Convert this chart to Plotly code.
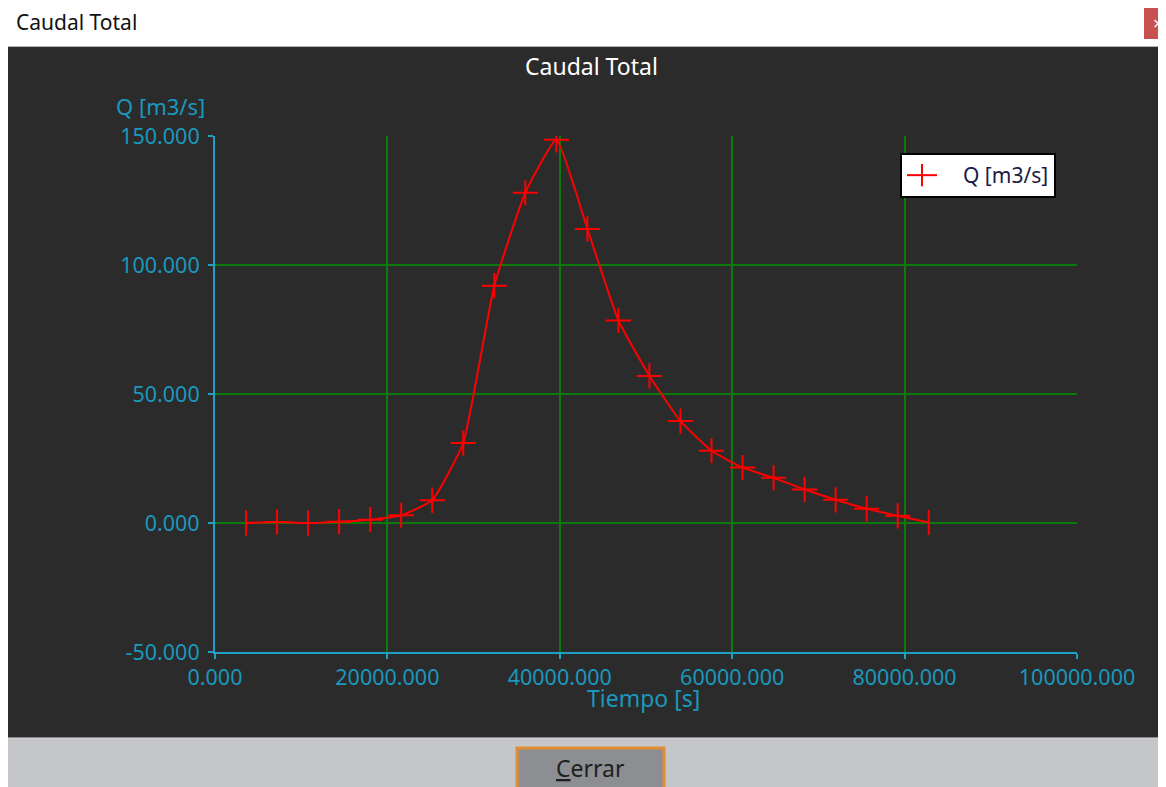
import plotly.graph_objects as go

# data (time in s, flow in m3/s)
tiempo = [3600, 7200, 10800, 14400, 18000, 21600, 25200, 28800, 32400, 36000,
          39600, 43200, 46800, 50400, 54000, 57600, 61200, 64800, 68400, 72000,
          75600, 79200, 82800]
caudal = [0.0, 0.4, 0.0, 0.5, 1.3, 3.0, 8.8, 31.0, 92.0, 128.0,
          148.5, 114.0, 78.5, 57.0, 39.5, 28.0, 21.5, 17.5, 13.0, 9.0,
          5.5, 2.8, 0.2]
y_ticks = [-50, 0, 50, 100, 150]
x_ticks = [0, 20000, 40000, 60000, 80000, 100000]

# the page body has an 8px margin, so the figure is drawn 8px smaller
OFF = 8
W, H = 1166, 787          # browser window
L, R, T, B = 215, 1077, 136, 652  # plot area in window pixels


def px(x):
    return (x - L) / (R - L)


def py(y):
    return (B - y) / (B - T)


FONT = "Noto Sans"
CYAN = "#1d9fc6"
CYAN_TXT = "#1a98bd"
GREEN = "#0b7a0b"
NUM = 21.5
TXT = 23

symbols = ["cross-thin"] * len(tiempo)
for i in (0, 2, len(tiempo) - 1):
    symbols[i] = "line-ns"

fig = go.Figure()
fig.add_trace(go.Scatter(
    x=tiempo, y=caudal, name="\u2003Q [m3/s]", mode="lines+markers",
    line=dict(color="#ff0000", width=2, shape="spline", smoothing=0.4),
    marker=dict(symbol=symbols, size=18, color="#ff0000",
                line=dict(color="#ff0000", width=2)),
))

shapes = [
    # dark chart panel
    dict(type="rect", xref="paper", yref="paper", x0=px(0), x1=px(W + 5),
         y0=py(738), y1=py(47), fillcolor="#2b2b2b", line_width=0, layer="below"),
    # title bar separator
    dict(type="line", xref="paper", yref="paper", x0=px(0), x1=px(W),
         y0=py(46.5), y1=py(46.5), line=dict(color="#b5b5b5", width=1)),
    # bottom button strip
    dict(type="rect", xref="paper", yref="paper", x0=px(0), x1=px(W + 5),
         y0=py(H + 5), y1=py(738), fillcolor="#c4c6ca",
         line=dict(color="#dcdde0", width=1)),
    # Cerrar button
    dict(type="rect", xref="paper", yref="paper", x0=px(517), x1=px(664),
         y0=py(790), y1=py(748), fillcolor="#8c8e92",
         line=dict(color="#e08d34", width=3)),
    # close box
    dict(type="rect", xref="paper", yref="paper", x0=px(1144), x1=px(W + 5),
         y0=py(39), y1=py(7), fillcolor="#c75050", line_width=0),
]

annotations = [
    dict(text="Caudal Total", xref="paper", yref="paper", x=px(14), y=py(22),
         xanchor="left", yanchor="middle", showarrow=False,
         font=dict(family=FONT, size=21, color="#111111")),
    dict(text="×", xref="paper", yref="paper", x=px(1165), y=py(23),
         xanchor="right", yanchor="middle", showarrow=False,
         font=dict(family=FONT, size=18, color="#ffffff")),
    dict(text="Caudal Total", xref="paper", yref="paper", x=px(591), y=py(66),
         xanchor="center", yanchor="middle", showarrow=False,
         font=dict(family=FONT, size=TXT, color="#ffffff")),
    dict(text="Q [m3/s]", xref="paper", yref="paper", x=px(114), y=py(106),
         xanchor="left", yanchor="middle", showarrow=False,
         font=dict(family=FONT, size=22, color=CYAN_TXT)),
    dict(text="Tiempo [s]", xref="paper", yref="paper", x=px(643), y=py(698),
         xanchor="center", yanchor="middle", showarrow=False,
         font=dict(family=FONT, size=TXT, color=CYAN_TXT)),
    dict(text="<u>C</u>errar", xref="paper", yref="paper", x=px(590), y=py(768),
         xanchor="center", yanchor="middle", showarrow=False,
         font=dict(family=FONT, size=TXT, color="#1e1e1e")),
]

fig.update_layout(
    width=W - OFF, height=H - OFF,
    margin=dict(l=L - OFF, r=W - R, t=T - OFF, b=H - B, pad=0),
    paper_bgcolor="#ffffff", plot_bgcolor="#2b2b2b",
    font=dict(family=FONT, size=NUM, color=CYAN_TXT),
    shapes=shapes, annotations=annotations,
    showlegend=True,
    legend=dict(x=px(1056), y=py(153), xanchor="right", yanchor="top",
                bgcolor="#ffffff", bordercolor="#000000", borderwidth=2,
                font=dict(family=FONT, size=21, color="#1b1b4a")),
)
fig.update_xaxes(
    range=[0, 100000], tickvals=x_ticks,
    ticktext=[f"{v:.3f}" for v in x_ticks],
    showgrid=True, gridcolor=GREEN, gridwidth=2, zeroline=False,
    showline=True, linecolor=CYAN, linewidth=2,
    ticks="outside", ticklen=5, tickcolor=CYAN, tickwidth=2,
    tickfont=dict(family=FONT, size=NUM, color=CYAN_TXT),
)
fig.update_yaxes(
    range=[-50, 150], tickvals=y_ticks,
    ticktext=[f"{v:.3f}" for v in y_ticks],
    showgrid=True, gridcolor=GREEN, gridwidth=2, zeroline=False,
    showline=True, linecolor=CYAN, linewidth=2,
    ticks="outside", ticklen=5, tickcolor=CYAN, tickwidth=2,
    ticklabelstandoff=4,
    tickfont=dict(family=FONT, size=NUM, color=CYAN_TXT),
)

fig.write_html("out.html")
